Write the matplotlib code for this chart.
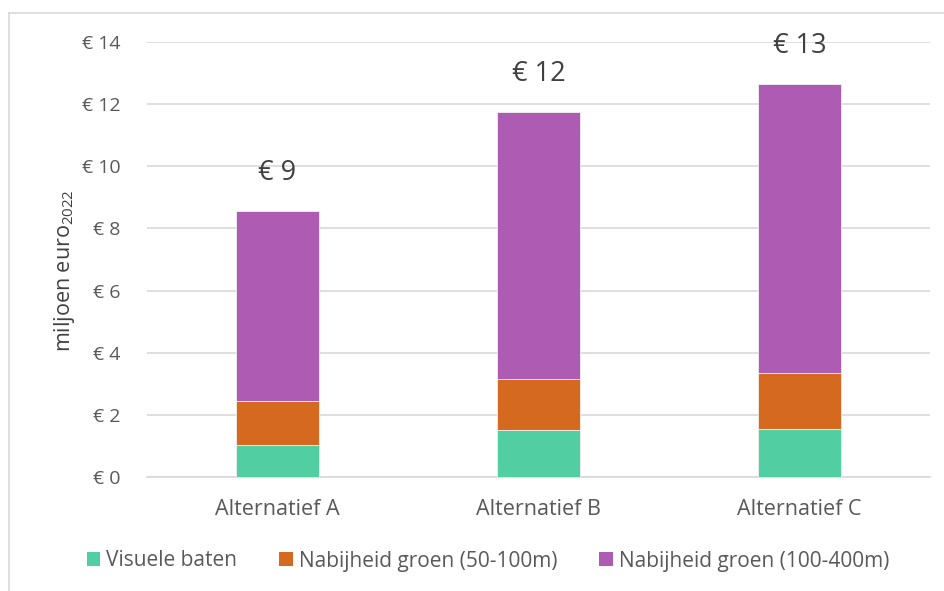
import matplotlib
matplotlib.use("Agg")
import matplotlib.pyplot as plt
from matplotlib.lines import Line2D
from matplotlib.patches import Patch

categories = ["Alternatief A", "Alternatief B", "Alternatief C"]
visuele = [1.02, 1.50, 1.55]
groen_50_100 = [1.43, 1.66, 1.80]
groen_100_400 = [6.12, 8.59, 9.29]
series_names = ["Visuele baten", "Nabijheid groen (50-100m)", "Nabijheid groen (100-400m)"]
colors = ["#52CFA2", "#D4691F", "#AE5CB3"]
yticks = [0, 2, 4, 6, 8, 10, 12, 14]

plt.rcParams['font.family'] = ['Open Sans', 'DejaVu Sans']
plt.rcParams['mathtext.fontset'] = 'custom'
plt.rcParams['mathtext.rm'] = 'Open Sans'
fig = plt.figure(figsize=(9.45, 5.91), dpi=100)
ax = fig.add_axes([147/945, 1-477/591, (930-147)/945, (477-42)/591])

x = list(range(len(categories)))
width = 0.315
bottom = [0]*3
for vals, col, name in zip([visuele, groen_50_100, groen_100_400], colors, series_names):
    ax.bar(x, vals, width, bottom=bottom, color=col, edgecolor="#f0f0f0", linewidth=0.6, label=name, zorder=3)
    bottom = [b+v for b, v in zip(bottom, vals)]

for xi, tot in zip(x, bottom):
    ax.annotate(f"€ {round(tot)}", (xi, tot), xytext=(0, 27.5), textcoords="offset points",
                ha="center", va="center", fontsize=19.5, color="#404040")

ax.set_xlim(-0.5, 2.5)
ax.set_ylim(0, 14)
ax.set_yticks(yticks)
ax.set_yticklabels([f"€ {v}" for v in yticks], fontsize=14, color="#595959")
ax.set_xticks(x)
ax.set_xticklabels(categories, fontsize=15.5, color="#595959")
ax.tick_params(axis="x", length=0, pad=16)
ax.tick_params(axis="y", length=0, pad=19)
ax.grid(axis="y", color="#d9d9d9", linewidth=1.2, zorder=0)
for s in ["top", "right", "left"]:
    ax.spines[s].set_visible(False)
ax.spines["bottom"].set_color("#d9d9d9")
ax.spines["bottom"].set_linewidth(1.2)
ax.set_ylabel("miljoen euro$_{2022}$", fontsize=15.5, color="#404040")
ax.yaxis.set_label_coords(-0.09, 0.475)

handles = [Patch(facecolor=c, edgecolor="none") for c in colors]
fig.legend(handles, series_names, loc="center", bbox_to_anchor=(488/945, 1-561/591), ncol=3,
           frameon=False, fontsize=15, handlelength=0.65, handleheight=0.65, handletextpad=0.3,
           columnspacing=2.0, labelcolor="#595959")

# outer chart border (left and top)
fig.add_artist(Line2D([9/945, 9/945], [0, 1-13/591], color="#d9d9d9", linewidth=1.2, transform=fig.transFigure))
fig.add_artist(Line2D([9/945, 1], [1-13/591, 1-13/591], color="#d9d9d9", linewidth=1.2, transform=fig.transFigure))

fig.savefig("out.png", dpi=100)
